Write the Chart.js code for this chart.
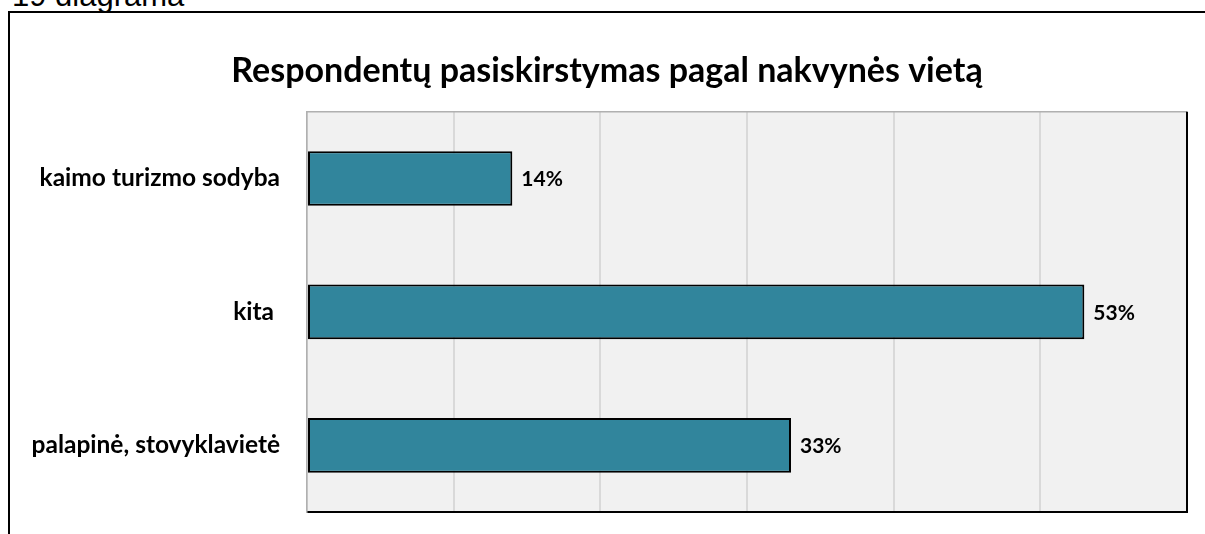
<!DOCTYPE html>
<html>
<head>
<meta charset="utf-8">
<script src="https://cdn.jsdelivr.net/npm/chart.js@4/dist/chart.umd.min.js"></script>
<style>
  body { margin: 0; background: #fff; overflow: hidden; }
  #caption {
    position: absolute; left: 12px; top: -20px;
    font: 31px "Liberation Sans", Arial, sans-serif; line-height: 31px; color: #000;
  }
  #frame {
    position: absolute; left: 8px; top: 11px; width: 1300px; height: 600px;
    border-left: 2px solid #000; border-top: 2px solid #000;
  }
  #wrap { position: absolute; left: 0; top: 0; width: 1205px; height: 534px; }
</style>
</head>
<body>
<div id="caption">19 diagrama</div>
<div id="frame"></div>
<div id="wrap"><canvas id="chart"></canvas></div>
<script>
"use strict";

const categories = ["kaimo turizmo sodyba", "kita ", "palapinė, stovyklavietė"];
const shares = [14, 53, 33];
const axisMax = 60;
const axisStep = 10;

// fonas, rėmeliai ir reikšmių etiketės
const plotDecor = {
  id: "plotDecor",
  beforeDraw(chart) {
    const { ctx, chartArea: a } = chart;
    ctx.save();
    ctx.fillStyle = "#f1f1f1";
    ctx.fillRect(a.left, a.top, a.right - a.left, a.bottom - a.top);
    ctx.restore();
  },
  afterDatasetsDraw(chart) {
    const { ctx, chartArea: a } = chart;
    ctx.save();
    ctx.strokeStyle = "#b0b0b0";
    ctx.lineWidth = 1.5;
    ctx.beginPath();
    ctx.moveTo(a.left, a.top);
    ctx.lineTo(a.right, a.top);
    ctx.stroke();
    ctx.strokeStyle = "#000";
    ctx.lineWidth = 2;
    ctx.beginPath();
    ctx.moveTo(a.right, a.top);
    ctx.lineTo(a.right, a.bottom + 1);
    ctx.stroke();

    const meta = chart.getDatasetMeta(0);
    ctx.fillStyle = "#000";
    ctx.font = "bold 21px Lato, sans-serif";
    ctx.textAlign = "left";
    ctx.textBaseline = "middle";
    meta.data.forEach(function (bar, i) {
      ctx.fillText(shares[i] + "%", bar.x + 9, bar.y + 1);
    });
    ctx.restore();
  },
};

new Chart(document.getElementById("chart"), {
  type: "bar",
  data: {
    labels: categories,
    datasets: [
      {
        data: shares,
        backgroundColor: "#31859c",
        borderColor: "#000",
        borderWidth: 2,
        borderSkipped: false,
        categoryPercentage: 1,
        barPercentage: 0.41,
      },
    ],
  },
  options: {
    indexAxis: "y",
    responsive: true,
    maintainAspectRatio: false,
    animation: false,
    layout: {
      padding: { left: 27, right: 18, top: 0, bottom: 22 },
    },
    scales: {
      x: {
        min: 0,
        max: axisMax,
        ticks: { display: false, stepSize: axisStep },
        grid: { color: "#d9d9d9", lineWidth: 2, drawTicks: false },
        border: { color: "#000", width: 2 },
        afterFit: function (scale) {
          scale.height = 0;
          scale.paddingLeft = 0;
          scale.paddingRight = 0;
        },
      },
      y: {
        grid: { display: false, drawTicks: false },
        border: { color: "#b0b0b0", width: 1.5 },
        ticks: {
          color: "#000",
          padding: 27,
          font: { family: "Lato, sans-serif", size: 24.5, weight: "bold" },
        },
        afterFit: function (scale) {
          scale.width = 280;
          scale.paddingTop = 0;
          scale.paddingBottom = 0;
        },
      },
    },
    plugins: {
      legend: { display: false },
      tooltip: { enabled: false },
      title: {
        display: true,
        text: "Respondentų pasiskirstymas pagal nakvynės vietą",
        color: "#000",
        font: { family: "Lato, sans-serif", size: 34, weight: "bold" },
        padding: { top: 51, bottom: 20 },
      },
    },
  },
  plugins: [plotDecor],
});
</script>
</body>
</html>
